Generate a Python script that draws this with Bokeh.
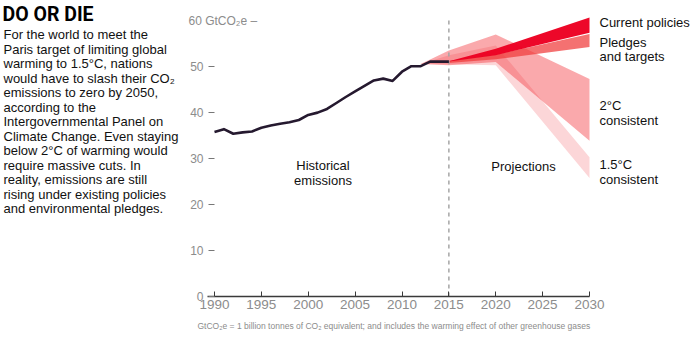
from bokeh.plotting import figure
from bokeh.models import Range1d, FixedTicker, Label, ColumnDataSource
from bokeh.embed import file_html
from bokeh.resources import INLINE

# ---------------- data ----------------
hist_years = list(range(1990, 2016))
hist_values = [35.8, 36.4, 35.4, 35.7, 35.9, 36.7, 37.2, 37.6, 37.9, 38.4,
               39.5, 40.0, 40.8, 42.1, 43.4, 44.6, 45.8, 47.0, 47.4, 46.9,
               48.9, 50.1, 50.1, 51.1, 51.1, 51.1]

policy_years = [2015, 2020, 2030]
current_low = [51.1, 52.5, 57.4]
current_high = [51.2, 53.9, 60.7]
pledges_low = [50.8, 51.6, 54.3]
pledges_high = [51.3, 52.6, 57.1]

scenario_years = [2012, 2015, 2020, 2030]
deg2_low = [50.6, 50.3, 51.0, 33.9]
deg2_high = [50.6, 53.5, 57.0, 47.3]
deg15_low = [50.6, 50.5, 50.3, 25.8]
deg15_high = [50.6, 52.5, 54.6, 30.3]

projection_start = 2015
x_ticks = [1990, 1995, 2000, 2005, 2010, 2015, 2020, 2025, 2030]
y_ticks = [0, 10, 20, 30, 40, 50]
y_top_label = "60 GtCO\u2082e \u2013"
y_top_value = 60

title_text = "DO OR DIE"
body_lines = [
    "For the world to meet the",
    "Paris target of limiting global",
    "warming to 1.5\u00b0C, nations",
    "would have to slash their CO\u2082",
    "emissions to zero by 2050,",
    "according to the",
    "Intergovernmental Panel on",
    "Climate Change. Even staying",
    "below 2\u00b0C of warming would",
    "require massive cuts. In",
    "reality, emissions are still",
    "rising under existing policies",
    "and environmental pledges.",
]
footnote = ("GtCO\u2082e = 1 billion tonnes of CO\u2082 equivalent; and includes "
            "the warming effect of other greenhouse gases")

# ---------------- layout ----------------
W, H = 700, 337
# pixel positions of the data extent (1990..2030, 0..62) inside the canvas
FL, FR, FT, FB = 214, 589, 11, 296
X0, X1, Y0, Y1 = 1990, 2030, 0, 62


def dx(px):
    return X0 + (px - FL) * (X1 - X0) / (FR - FL)


def dy(py):
    return Y0 + (FB - py) * (Y1 - Y0) / (FB - FT)


p = figure(width=W, height=H, output_backend="svg", toolbar_location=None,
           x_range=Range1d(dx(0), dx(W)), y_range=Range1d(dy(H), dy(0)),
           title=None, min_border=0)
p.outline_line_color = None
p.xgrid.visible = False
p.ygrid.visible = False
p.background_fill_color = "white"
p.border_fill_color = "white"

FONT = "Liberation Sans"
GREY = "#8c8c8c"

# x axis (drawn at y = 0 inside the frame)
xa = p.xaxis[0]
xa.fixed_location = 0
xa.bounds = (dx(207), X1)
xa.ticker = FixedTicker(ticks=x_ticks)
xa.axis_line_color = "#3a3a3a"
xa.axis_line_width = 1.3
xa.major_tick_in = 5
xa.major_tick_out = 0
xa.major_tick_line_color = "#3a3a3a"
xa.minor_tick_line_color = None
xa.major_label_text_font = FONT
xa.major_label_text_font_size = "13.5px"
xa.major_label_text_color = GREY
xa.major_label_standoff = 3

# y axis (drawn at x = 1990 inside the frame)
ya = p.yaxis[0]
ya.fixed_location = X0
ya.bounds = (0, 50)
ya.ticker = FixedTicker(ticks=y_ticks)
ya.axis_line_color = None
ya.major_tick_in = 0
ya.major_tick_out = 6
ya.major_tick_line_color = "#777777"
ya.minor_tick_line_color = None
ya.major_label_text_font = FONT
ya.major_label_text_font_size = "12px"
ya.major_label_text_color = GREY
ya.major_label_standoff = 5

# bands
RED = "#f2333a"
p.varea(x=scenario_years, y1=deg15_low, y2=deg15_high, fill_color=RED, fill_alpha=0.2)
p.varea(x=scenario_years, y1=deg2_low, y2=deg2_high, fill_color=RED, fill_alpha=0.42)
p.varea(x=policy_years, y1=pledges_low, y2=pledges_high, fill_color="#f03a3a", fill_alpha=0.72)
p.varea(x=policy_years, y1=current_low, y2=current_high, fill_color="#ec0022", fill_alpha=0.97)

# dashed projection divider
p.segment(x0=[projection_start], y0=[0], x1=[projection_start], y1=[dy(17)],
          line_color="#a5a5a5", line_width=1.5, line_dash="4 4")

# historical line
src = ColumnDataSource(dict(x=hist_years, y=hist_values))
p.line("x", "y", source=src, line_color="#25192f", line_width=2.6, line_join="round")


def add_label(x, y, text, size="13px", color="#111111", align="left",
              style="normal", font=FONT):
    p.add_layout(Label(x=x, y=y, text=text, text_font=font, text_font_size=size,
                       text_color=color, text_align=align, text_baseline="middle",
                       text_font_style=style))


# top y label
add_label(dx(188), y_top_value, y_top_label, size="12px", color=GREY)

# left column
add_label(dx(2), dy(13.5), title_text, size="19.5px", style="bold", font="Roboto",
          color="#000000")
for i, line in enumerate(body_lines):
    add_label(dx(3), dy(34.3 + i * 14.5), line, size="13px")

# series labels
add_label(dx(599), dy(21.5), "Current policies")
add_label(dx(599), dy(41.7), "Pledges")
add_label(dx(599), dy(56), "and targets")
add_label(dx(599), dy(105), "2\u00b0C")
add_label(dx(599), dy(119.5), "consistent")
add_label(dx(599), dy(164), "1.5\u00b0C")
add_label(dx(599), dy(178.5), "consistent")

# region labels
add_label(dx(322.5), dy(165), "Historical", align="center")
add_label(dx(322.5), dy(180), "emissions", align="center")
add_label(dx(523), dy(166), "Projections", align="center")

# footnote
add_label(dx(197), dy(325.5), footnote, size="8.5px", color=GREY)

open("out.html", "w").write(file_html(p, INLINE))
